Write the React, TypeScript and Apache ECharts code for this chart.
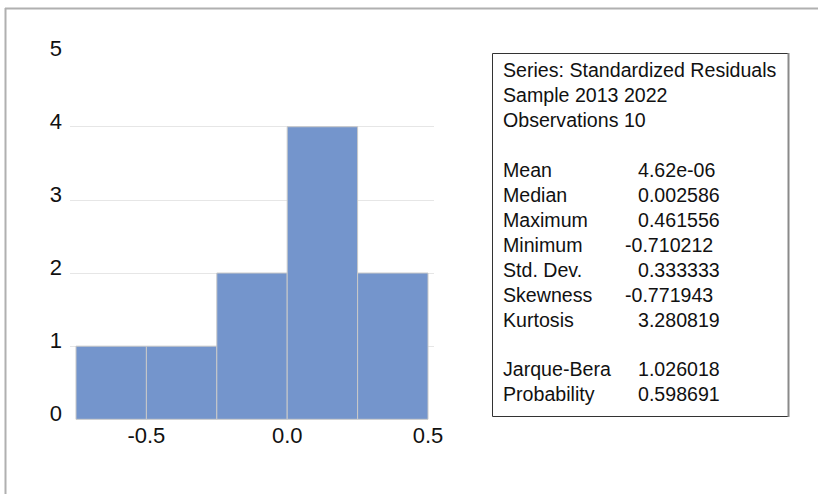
import React, { useEffect, useRef } from "react";
import * as echarts from "echarts";

// Histogram bins: [lower edge, upper edge, count]
const binLower = [-0.75, -0.5, -0.25, 0.0, 0.25];
const binUpper = [-0.5, -0.25, 0.0, 0.25, 0.5];
const binCounts = [1, 1, 2, 4, 2];

const yTicks = [0, 1, 2, 3, 4, 5];

const headerLines = ["Series: Standardized Residuals", "Sample 2013 2022", "Observations 10"];
const statNames = ["Mean", "Median", "Maximum", "Minimum", "Std. Dev.", "Skewness", "Kurtosis"];
const statValues = ["4.62e-06", "0.002586", "0.461556", "-0.710212", "0.333333", "-0.771943", "3.280819"];
const testNames = ["Jarque-Bera", "Probability"];
const testValues = ["1.026018", "0.598691"];

const FONT = "'Liberation Sans', Arial, Helvetica, sans-serif";
const BAR_COLOR = "#7495cc";

export default function App() {
  const ref = useRef<HTMLDivElement>(null);

  useEffect(() => {
    if (!ref.current) return;
    const chart = echarts.init(ref.current, null, { renderer: "svg" });

    const data = binLower.map((lo, i) => [lo, binUpper[i], binCounts[i]]);

    // stats box text lines
    const lineH = 24.95;
    const top = 70;
    const labelX = 503;
    const valueX = 638;
    const valueNegX = 625;
    const statFont = `19.6px ${FONT}`;
    const texts: any[] = [];
    const addLine = (row: number, label: string, value?: string) => {
      texts.push({
        type: "text",
        x: labelX,
        y: top + row * lineH,
        style: { text: label, font: statFont, fill: "#111", textVerticalAlign: "middle", textAlign: "left" },
      });
      if (value !== undefined) {
        texts.push({
          type: "text",
          x: value.startsWith("-") ? valueNegX : valueX,
          y: top + row * lineH,
          style: { text: value, font: statFont, fill: "#111", textVerticalAlign: "middle", textAlign: "left" },
        });
      }
    };
    headerLines.forEach((t, i) => addLine(i, t));
    statNames.forEach((t, i) => addLine(4 + i, t, statValues[i]));
    testNames.forEach((t, i) => addLine(12 + i, t, testValues[i]));

    const gridTop = 53.6;
    const gridHeight = 365.7;

    chart.setOption({
      animation: false,
      backgroundColor: "#ffffff",
      grid: [
        { left: 70, top: gridTop, width: 364, height: gridHeight },
        { left: 76, top: gridTop, width: 352, height: gridHeight },
      ],
      xAxis: [
        { gridIndex: 0, type: "value", min: 0, max: 1, show: false },
        {
          gridIndex: 1,
          type: "value",
          min: -0.75,
          max: 0.5,
          interval: 0.25,
          axisLine: { show: false },
          axisTick: { show: false },
          splitLine: { show: false },
          axisLabel: {
            showMinLabel: true,
            showMaxLabel: true,
            margin: 5,
            fontSize: 22,
            fontFamily: FONT,
            color: "#111",
            formatter: (v: number) =>
              Math.abs(v * 2 - Math.round(v * 2)) < 1e-9 ? v.toFixed(1) : "",
          },
        },
      ],
      yAxis: [
        {
          gridIndex: 0,
          type: "value",
          min: yTicks[0],
          max: yTicks[yTicks.length - 1],
          interval: 1,
          axisLine: { show: false },
          axisTick: { show: false },
          axisLabel: {
            margin: 8,
            fontSize: 22,
            fontFamily: FONT,
            color: "#111",
            verticalAlign: "bottom",
            lineHeight: 11,
          },
          splitLine: {
            show: true,
            lineStyle: {
              width: 1,
              color: yTicks.map((t, i) => (i === 0 || i === yTicks.length - 1 ? "rgba(0,0,0,0)" : "#e6e6e6")),
            },
          },
        },
        { gridIndex: 1, type: "value", min: 0, max: 5, show: false },
      ],
      series: [
        {
          type: "custom",
          xAxisIndex: 1,
          yAxisIndex: 1,
          encode: { x: [0, 1], y: 2 },
          data,
          renderItem: (params: any, api: any) => {
            const p0 = api.coord([api.value(0), api.value(2)]);
            const p1 = api.coord([api.value(1), 0]);
            return {
              type: "rect",
              shape: { x: p0[0], y: p0[1], width: p1[0] - p0[0], height: p1[1] - p0[1] },
              style: { fill: BAR_COLOR, stroke: "#c9c9c9", lineWidth: 1 },
            };
          },
        },
      ],
      graphic: [
        // outer frame
        { type: "line", shape: { x1: 5, y1: 8.5, x2: 818, y2: 8.5 }, style: { stroke: "#b0b0b0", lineWidth: 2 } },
        { type: "line", shape: { x1: 5.5, y1: 8, x2: 5.5, y2: 494 }, style: { stroke: "#b0b0b0", lineWidth: 2 } },
        // stats box
        {
          type: "rect",
          shape: { x: 492.5, y: 53.5, width: 296, height: 363 },
          style: { fill: "#fff", stroke: "#333", lineWidth: 1 },
        },
        { type: "line", shape: { x1: 788.5, y1: 53, x2: 788.5, y2: 417 }, style: { stroke: "#8a8a8a", lineWidth: 2 } },
        ...texts,
      ],
    });

    return () => chart.dispose();
  }, []);

  return (
    <div
      ref={ref}
      style={{ position: "fixed", left: 0, top: 0, width: 818, height: 494 }}
    />
  );
}
